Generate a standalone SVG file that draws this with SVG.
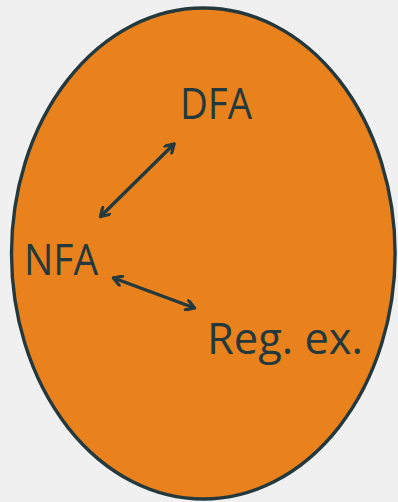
<svg xmlns="http://www.w3.org/2000/svg" width="398" height="502" viewBox="0 0 398 502">
<defs>
<style>
.lbl{font-family:"Open Sans","Noto Sans",sans-serif;font-size:44px;fill:#23393e}
.conn{stroke:#23393e;stroke-width:3.4;fill:none;stroke-linecap:round}
</style>
<marker id="ah" viewBox="0 0 12 12" refX="10" refY="6" markerWidth="12" markerHeight="12" markerUnits="userSpaceOnUse" orient="auto-start-reverse">
<path d="M2,1 L10,6 L2,11" fill="none" stroke="#23393e" stroke-width="3.2" stroke-linecap="round" stroke-linejoin="round"/>
</marker>
</defs>
<rect width="398" height="502" fill="#f0f0f0"/>
<g id="region">
<ellipse cx="203.3" cy="253.5" rx="191.8" ry="245.5" fill="#e9821c" stroke="#23393e" stroke-width="3.4"/>
</g>
<g id="node-dfa"><text class="lbl" x="180" y="119" textLength="72" lengthAdjust="spacingAndGlyphs">DFA</text></g>
<g id="node-nfa"><text class="lbl" x="24" y="275" textLength="74" lengthAdjust="spacingAndGlyphs">NFA</text></g>
<g id="node-regex"><text class="lbl" x="207" y="354" textLength="156" lengthAdjust="spacingAndGlyphs">Reg. ex.</text></g>
<g id="connectors">
<line class="conn" x1="100.5" y1="216.5" x2="174" y2="144" marker-start="url(#ah)" marker-end="url(#ah)"/>
<line class="conn" x1="113.5" y1="278" x2="194.5" y2="308" marker-start="url(#ah)" marker-end="url(#ah)"/>
</g>
</svg>
